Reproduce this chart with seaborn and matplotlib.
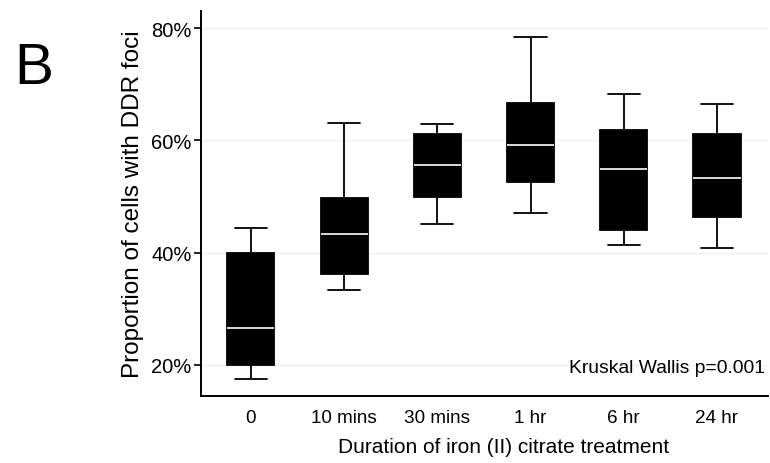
import matplotlib
matplotlib.use("Agg")
import matplotlib.pyplot as plt
import seaborn as sns
import pandas as pd
from matplotlib.ticker import FuncFormatter

# Five-number summaries (percent): min, q1, median, q3, max
categories = ["0", "10 mins", "30 mins", "1 hr", "6 hr", "24 hr"]
mins    = [17.4, 33.3, 45.1, 47.0, 41.4, 40.9]
q1s     = [20.0, 36.1, 49.9, 52.6, 44.0, 46.3]
medians = [26.6, 43.3, 55.6, 59.2, 54.9, 53.3]
q3s     = [40.0, 49.8, 61.1, 66.7, 61.9, 61.1]
maxs    = [44.4, 63.1, 62.9, 78.5, 68.3, 66.6]
y_ticks = [20, 40, 60, 80]

rows = []
for c, a, b, m, d, e in zip(categories, mins, q1s, medians, q3s, maxs):
    for v in (a, b, m, d, e):
        rows.append({"cat": c, "val": v})
df = pd.DataFrame(rows)

sns.set_theme(style="white")
plt.rcParams["font.family"] = ["Liberation Sans", "DejaVu Sans"]

fig = plt.figure(figsize=(7.7, 4.64), dpi=100)
ax = fig.add_axes([0.2614, 0.1437, 0.7356, 0.8304])

for t in y_ticks:
    ax.axhline(t, color="#eaf1f6", lw=1.0, zorder=0)

sns.boxplot(data=df, x="cat", y="val", order=categories, ax=ax,
            whis=(0, 100), width=0.505, color="black", fill=True,
            linecolor="black", linewidth=1.3,
            boxprops=dict(facecolor="black", edgecolor="black"),
            medianprops=dict(color="white", linewidth=1.2),
            whiskerprops=dict(color="black", linewidth=1.3),
            capprops=dict(color="black", linewidth=1.3),
            capwidths=0.345, showfliers=False)

ax.set_xlim(-0.533, 5.544)
ax.set_ylim(14.36, 83.1)
ax.set_yticks(y_ticks)
ax.yaxis.set_major_formatter(FuncFormatter(lambda v, p: f"{v:.0f}%"))

for s in ["top", "right"]:
    ax.spines[s].set_visible(False)
for s in ["left", "bottom"]:
    ax.spines[s].set_color("black")
    ax.spines[s].set_linewidth(1.4)

ax.tick_params(axis="y", left=True, length=5, width=1.2, color="black",
               labelsize=14.5, labelcolor="black", pad=2)
ax.tick_params(axis="x", bottom=False, labelsize=13.6, labelcolor="black", pad=3)

ax.set_xlabel("Duration of iron (II) citrate treatment", fontsize=15,
              color="black")
ax.xaxis.set_label_coords(0.5335, -0.105)
ax.set_ylabel("Proportion of cells with DDR foci", fontsize=17.5,
              color="black", labelpad=5)

ax.text(0.995, 0.075, "Kruskal Wallis p=0.001", transform=ax.transAxes,
        ha="right", va="center", fontsize=13.9, color="black")

fig.text(0.044, 0.851, "B", fontsize=42, color="black", ha="center", va="center")

fig.savefig("out.png", dpi=100)
